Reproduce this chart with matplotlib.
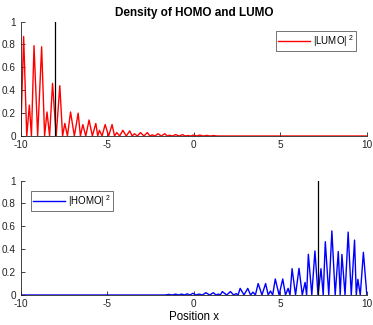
import matplotlib
matplotlib.use("Agg")
import matplotlib.pyplot as plt

# ------------- DATA ----------------------------------------
# |LUMO|^2 : alternating trough / peak points
lumo_x = [-10.0, -9.83, -9.65, -9.50, -9.38, -9.23, -9.02, -8.79, -8.62, -8.48,
          -8.33, -8.16, -7.95, -7.74, -7.58, -7.45, -7.30, -7.12, -6.90, -6.68,
          -6.55, -6.41, -6.24, -6.05, -5.86, -5.66, -5.55, -5.45, -5.30, -5.12,
          -4.92, -4.72, -4.58, -4.45, -4.28, -4.10, -3.90, -3.70, -3.56, -3.43,
          -3.26, -3.08, -2.88, -2.68, -2.54, -2.40, -2.24, -2.07, -1.88, -1.68,
          -1.54, -1.40, -1.22, -1.05, -0.85, -0.65, -0.50, -0.35, -0.18, -0.02,
          0.16, 0.35, 0.55, 0.75, 0.95, 1.15, 1.35, 10.0]
lumo_y = [0.0, 0.87, 0.0, 0.27, 0.0, 0.79, 0.0, 0.78, 0.0, 0.21,
          0.0, 0.46, 0.0, 0.44, 0.0, 0.11, 0.0, 0.21, 0.0, 0.20,
          0.0, 0.10, 0.0, 0.14, 0.0, 0.11, 0.0, 0.05, 0.0, 0.10,
          0.0, 0.10, 0.0, 0.03, 0.0, 0.05, 0.0, 0.045, 0.0, 0.02,
          0.0, 0.03, 0.0, 0.03, 0.0, 0.01, 0.0, 0.02, 0.0, 0.02,
          0.0, 0.007, 0.0, 0.012, 0.0, 0.012, 0.0, 0.004, 0.0, 0.008,
          0.0, 0.008, 0.0, 0.005, 0.0, 0.004, 0.0, 0.0]

# |HOMO|^2 : alternating trough / peak points
homo_x = [-10.0, -1.65, -1.45, -1.25, -1.05, -0.88, -0.70, -0.54, -0.38, -0.22,
          -0.05, 0.12, 0.30, 0.50, 0.70, 0.92, 1.13, 1.28, 1.42, 1.53,
          1.65, 1.90, 2.12, 2.30, 2.45, 2.56, 2.68, 2.90, 3.12, 3.28,
          3.42, 3.56, 3.72, 3.94, 4.15, 4.30, 4.43, 4.56, 4.71, 4.93,
          5.14, 5.30, 5.45, 5.56, 5.68, 5.88, 6.08, 6.27, 6.43, 6.52,
          6.62, 6.82, 7.00, 7.18, 7.35, 7.48, 7.60, 7.80, 7.98, 8.17,
          8.35, 8.46, 8.56, 8.74, 8.92, 9.10, 9.29, 9.39, 9.48, 9.62,
          9.80, 10.0]
homo_y = [0.0, 0.0, 0.005, 0.0, 0.007, 0.0, 0.008, 0.0, 0.01, 0.0,
          0.015, 0.0, 0.008, 0.0, 0.02, 0.0, 0.02, 0.0, 0.008, 0.0,
          0.03, 0.0, 0.03, 0.0, 0.012, 0.0, 0.058, 0.0, 0.058, 0.0,
          0.025, 0.0, 0.10, 0.0, 0.10, 0.0, 0.035, 0.0, 0.14, 0.0,
          0.14, 0.0, 0.058, 0.0, 0.23, 0.0, 0.233, 0.0, 0.11, 0.0,
          0.356, 0.0, 0.385, 0.0, 0.23, 0.0, 0.466, 0.0, 0.56, 0.0,
          0.38, 0.0, 0.355, 0.0, 0.55, 0.0, 0.48, 0.0, 0.137, 0.0,
          0.373, 0.0]

lumo_mark = -8.04   # black vertical marker, top panel
homo_mark = 7.15    # black vertical marker, bottom panel

xticks = [-10, -5, 0, 5, 10]
yticks = [0, 0.2, 0.4, 0.6, 0.8, 1]
ytick_labels = ["0", "0.2", "0.4", "0.6", "0.8", "1"]
# ----------------------------------------------------------

plt.rcParams["font.family"] = ["Liberation Sans", "DejaVu Sans"]
plt.rcParams["mathtext.fontset"] = "custom"
plt.rcParams["mathtext.rm"] = "Liberation Sans"

fig = plt.figure(figsize=(3.73, 3.25), dpi=100)
ax1 = fig.add_axes([0.0555, 0.5815, 0.928, 0.352])
ax2 = fig.add_axes([0.0555, 0.0923, 0.928, 0.352])


def style(ax):
    ax.set_xlim(-10, 10)
    ax.set_ylim(0, 1)
    ax.set_xticks(xticks)
    ax.set_xticklabels([str(t) for t in xticks])
    ax.set_yticks(yticks)
    ax.set_yticklabels(ytick_labels)
    for s in ["top", "right"]:
        ax.spines[s].set_visible(False)
    for s in ["left", "bottom"]:
        ax.spines[s].set_linewidth(0.6)
        ax.spines[s].set_color("#222222")
    ax.tick_params(direction="in", length=3, width=0.6, labelsize=7.2,
                   colors="#222222")
    ax.tick_params(axis="x", pad=3)
    ax.tick_params(axis="y", pad=3.5)


def legend(ax, loc, anchor):
    leg = ax.legend(loc=loc, bbox_to_anchor=anchor, borderaxespad=0,
                    fontsize=7, frameon=True, fancybox=False,
                    handlelength=3.3, handletextpad=0.3, borderpad=0.2)
    leg.get_frame().set_edgecolor("#333333")
    leg.get_frame().set_linewidth(0.6)
    return leg


ax1.plot(lumo_x, lumo_y, color="red", lw=1.0, label="|LUMO|$^{\\ 2}$")
ax1.plot([lumo_mark, lumo_mark], [0, 1], color="black", lw=0.9)
style(ax1)
ax1.set_title("Density of HOMO and LUMO", fontsize=8.5, fontweight="bold", pad=4)
legend(ax1, "upper right", (0.968, 0.919))

ax2.plot(homo_x, homo_y, color="blue", lw=1.0, label="|HOMO|$^{\\ 2}$")
ax2.plot([homo_mark, homo_mark], [0, 1], color="black", lw=0.9)
style(ax2)
ax2.set_xlabel("Position x", fontsize=8.3, labelpad=1)
legend(ax2, "upper left", (0.03, 0.91))

fig.savefig("out.png", dpi=100)
plt.close(fig)
